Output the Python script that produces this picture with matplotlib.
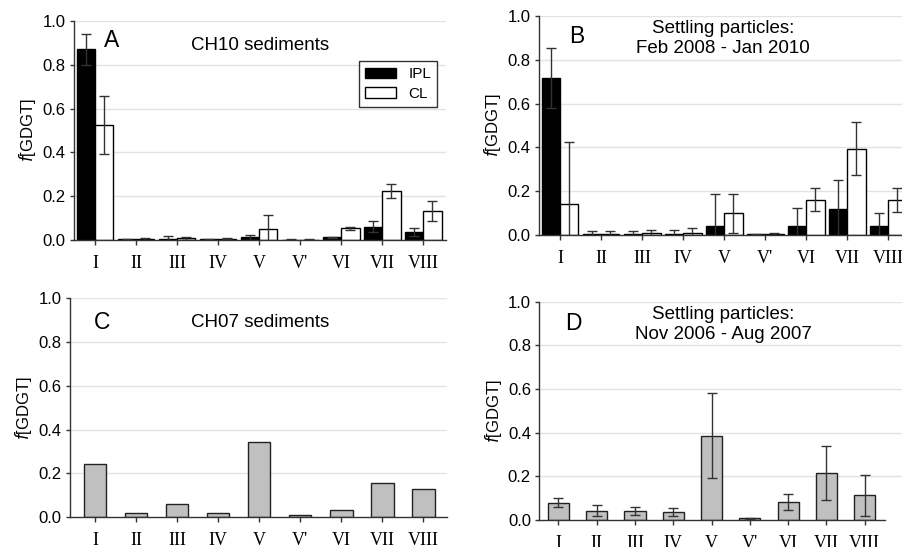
import numpy as np
import matplotlib.pyplot as plt
from matplotlib.patches import Patch

# ============================================================
# DATA
# ============================================================

categories = ["I", "II", "III", "IV", "V", "V'", "VI", "VII", "VIII"]

# A: CH10 sediments
a_ipl = [0.870, 0.003, 0.005, 0.004, 0.012, 0.002, 0.012, 0.061, 0.037]
a_ipl_err = [0.072, 0.002, 0.012, 0.002, 0.012, 0.001, 0.003, 0.025, 0.019]
a_cl = [0.525, 0.005, 0.007, 0.005, 0.051, 0.002, 0.054, 0.224, 0.134]
a_cl_err = [0.132, 0.003, 0.006, 0.002, 0.065, 0.001, 0.007, 0.030, 0.045]

# B: settling particles Feb 2008 - Jan 2010
b_ipl = [0.717, 0.008, 0.008, 0.008, 0.042, 0.004, 0.043, 0.121, 0.043]
b_ipl_err = [0.136, 0.012, 0.013, 0.015, 0.145, 0.003, 0.080, 0.129, 0.058]
b_cl = [0.142, 0.008, 0.010, 0.010, 0.100, 0.004, 0.162, 0.395, 0.162]
b_cl_err = [0.282, 0.010, 0.012, 0.025, 0.090, 0.008, 0.053, 0.122, 0.055]

# C: CH07 sediments
c_vals = [0.244, 0.017, 0.058, 0.018, 0.345, 0.009, 0.031, 0.156, 0.128]

# D: settling particles Nov 2006 - Aug 2007
d_vals = [0.079, 0.043, 0.043, 0.037, 0.385, 0.008, 0.081, 0.215, 0.113]
d_err = [0.020, 0.024, 0.018, 0.018, 0.195, 0.003, 0.036, 0.123, 0.095]

# ============================================================
# STYLE
# ============================================================

plt.rcParams["font.family"] = ["Liberation Sans", "DejaVu Sans"]

x = np.arange(len(categories))
grid_col = "#e3e3e3"
spine_col = "#333333"
err_kw = dict(ecolor="#333333", elinewidth=1.0, capsize=3.8, capthick=1.0)


def style_axes(ax, xlim, spine_end=None):
    ax.set_ylim(0, 1.0)
    ax.set_xlim(*xlim)
    ax.set_yticks([0.0, 0.2, 0.4, 0.6, 0.8, 1.0])
    ax.set_yticklabels(["0.0", "0.2", "0.4", "0.6", "0.8", "1.0"], fontsize=12)
    ax.set_xticks(x)
    ax.set_xticklabels(categories, family="Liberation Serif", fontsize=13)
    ax.tick_params(axis="x", length=3.6, width=1, color=spine_col, pad=7)
    ax.tick_params(axis="y", length=3, width=1, color=spine_col, pad=3)
    for s in ["top", "right"]:
        ax.spines[s].set_visible(False)
    for s in ["left", "bottom"]:
        ax.spines[s].set_color(spine_col)
        ax.spines[s].set_linewidth(1.0)
    if spine_end is not None:
        ax.spines["bottom"].set_bounds(xlim[0], spine_end)
    for g in [0.2, 0.4, 0.6, 0.8, 1.0]:
        ax.axhline(g, color=grid_col, lw=1.0, zorder=0)
    ax.set_ylabel("$\\it{f}$[GDGT]", fontsize=12, labelpad=3)
    ax.patch.set_alpha(0)


fig = plt.figure(figsize=(9.03, 5.47), dpi=100)

axA = fig.add_axes([0.082, 0.5612, 0.412, 0.4004])
axB = fig.add_axes([0.597, 0.5698, 0.412, 0.4015])
axC = fig.add_axes([0.0775, 0.0548, 0.4172, 0.3999])
axD = fig.add_axes([0.5972, 0.0494, 0.4028, 0.3991])

w = 0.45

# ============================================================
# A
# ============================================================

axA.bar(x - w / 2, a_ipl, w, color="black", edgecolor="black", lw=1, zorder=2)
axA.errorbar(x - w / 2, a_ipl, yerr=a_ipl_err, fmt="none", zorder=3, **err_kw)
axA.bar(x + w / 2, a_cl, w, color="white", edgecolor="black", lw=1, zorder=2)
axA.errorbar(x + w / 2, a_cl, yerr=a_cl_err, fmt="none", zorder=3, **err_kw)
style_axes(axA, (-0.51, 8.56))
axA.text(0.41, 0.91, "A", fontsize=16.5, ha="center", va="center")
axA.text(4.02, 0.89, "CH10 sediments", fontsize=13.5, ha="center", va="center")
axA.legend(
    handles=[
        Patch(facecolor="black", edgecolor="black", label="IPL"),
        Patch(facecolor="white", edgecolor="black", label="CL"),
    ],
    loc="upper right",
    bbox_to_anchor=(0.976, 0.817),
    borderaxespad=0,
    fontsize=11,
    frameon=True,
    fancybox=False,
    edgecolor="black",
    handlelength=2.0,
    handleheight=0.7,
    borderpad=0.4,
    labelspacing=0.35,
)

# ============================================================
# B
# ============================================================

axB.bar(x - w / 2, b_ipl, w, color="black", edgecolor="black", lw=1, zorder=2)
axB.errorbar(x - w / 2, b_ipl, yerr=b_ipl_err, fmt="none", zorder=3, **err_kw)
axB.bar(x + w / 2, b_cl, w, color="white", edgecolor="black", lw=1, zorder=2)
axB.errorbar(x + w / 2, b_cl, yerr=b_cl_err, fmt="none", zorder=3, **err_kw)
style_axes(axB, (-0.51, 8.56))
axB.text(0.41, 0.907, "B", fontsize=16.5, ha="center", va="center")
axB.text(3.98, 0.896, "Settling particles:\nFeb 2008 - Jan 2010", fontsize=13.5,
         ha="center", va="center", linespacing=1.25)

# ============================================================
# C
# ============================================================

axC.bar(x, c_vals, 0.55, color="#c0c0c0", edgecolor="#222222", lw=1, zorder=2)
style_axes(axC, (-0.61, 8.57))
axC.text(0.17, 0.89, "C", fontsize=16.5, ha="center", va="center")
axC.text(4.02, 0.89, "CH07 sediments", fontsize=13.5, ha="center", va="center")

# ============================================================
# D
# ============================================================

axD.bar(x, d_vals, 0.55, color="#c0c0c0", edgecolor="#222222", lw=1, zorder=2)
axD.errorbar(x, d_vals, yerr=d_err, fmt="none", zorder=3, **err_kw)
style_axes(axD, (-0.5, 9.0), spine_end=8.53)
axD.text(0.38, 0.90, "D", fontsize=16.5, ha="center", va="center")
axD.text(4.3, 0.897, "Settling particles:\nNov 2006 - Aug 2007", fontsize=13.5,
         ha="center", va="center", linespacing=1.25)

plt.savefig("out.png", dpi=100)
